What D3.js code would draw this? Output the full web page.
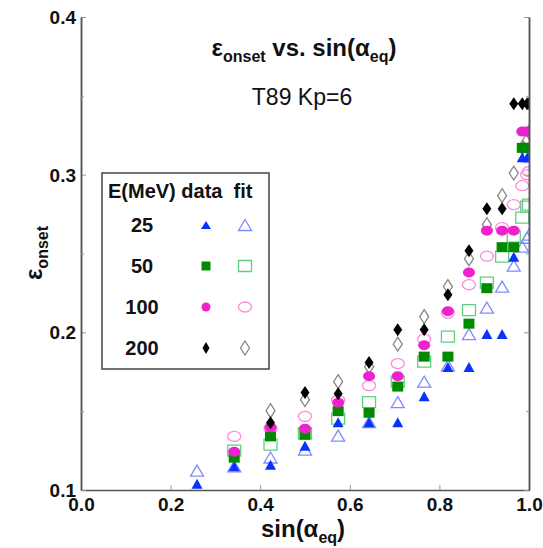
<!DOCTYPE html>
<html>
<head>
<meta charset="utf-8">
<script src="https://cdn.jsdelivr.net/npm/d3@7"></script>
<style>
  body { margin: 0; background: #fff; }
  svg { display: block; font-family: "Liberation Sans", Arial, sans-serif; }
</style>
</head>
<body>
<svg id="chart" width="543" height="548"></svg>
<script>
// epsilon_onset vs sin(alpha_eq), T89 Kp=6

// alpha_eq = 15..90 deg by 5 deg
const sinAlpha = [0.259, 0.342, 0.423, 0.5, 0.574, 0.643, 0.707, 0.766, 0.819, 0.866, 0.906, 0.940, 0.966, 0.985, 0.996, 1.0];

// datos (simbolos llenos), null = no hay punto
const data25  = [0.104, 0.115, 0.116, 0.128, 0.143, 0.143, 0.143, 0.1595, 0.178, 0.178, 0.199, 0.199, 0.248, 0.311, 0.311, 0.311];
const data50  = [null, 0.1205, 0.134, 0.135, 0.150, 0.149, 0.1656, 0.1846, 0.1846, 0.2055, 0.228, 0.254, 0.254, 0.317, 0.317, 0.317];
const data100 = [null, 0.1243, 0.1396, 0.1389, 0.1554, 0.1722, 0.1722, 0.1918, 0.2134, 0.2379, 0.2645, 0.2645, 0.2645, 0.3273, 0.3273, 0.3273];
const data200 = [null, null, 0.1427, 0.1618, 0.1611, 0.1808, 0.2017, 0.2017, 0.2239, 0.2518, 0.2784, 0.2784, 0.345, 0.345, 0.345, 0.345];

// ajustes (simbolos vacios)
const fit25  = [0.1123, 0.115, 0.1206, 0.1256, 0.1345, 0.143, 0.1557, 0.1687, 0.179, 0.1989, 0.2157, 0.229, 0.2423, 0.2543, 0.26, 0.262];
const fit50  = [null, 0.125, 0.1288, 0.136, 0.1453, 0.1557, 0.1687, 0.1814, 0.1973, 0.2141, 0.2315, 0.248, 0.2607, 0.2727, 0.2797, 0.281];
const fit100 = [null, 0.134, 0.139, 0.1467, 0.157, 0.1662, 0.1802, 0.1957, 0.2122, 0.2302, 0.2483, 0.2664, 0.281, 0.293, 0.30, 0.302];
const fit200 = [null, null, 0.1503, 0.1573, 0.1687, 0.1782, 0.1925, 0.21, 0.229, 0.2467, 0.2683, 0.2867, 0.301, 0.317, 0.322, 0.327];

const energies = ["25", "50", "100", "200"];
const xTicks = [0, 0.2, 0.4, 0.6, 0.8, 1.0];
const yTicks = [0.1, 0.2, 0.3, 0.4];
const yMinorTicks = [0.15, 0.25, 0.35];

const series = [
    {name: "25",  data: data25,  fit: fit25,  shape: "tri",  fill: "#0a32ff", line: "#7f8cff"},
    {name: "50",  data: data50,  fit: fit50,  shape: "sq",   fill: "#008a00", line: "#5fcf80"},
    {name: "100", data: data100, fit: fit100, shape: "circ", fill: "#ee22cc", line: "#ff88e0"},
    {name: "200", data: data200, fit: fit200, shape: "dia",  fill: "#000000", line: "#888888"}
];

const svg = d3.select("#chart");
const plotL = 81, plotR = 529, plotT = 17, plotB = 490;

const x = d3.scaleLinear().domain([0, 1]).range([plotL, plotR]);
const y = d3.scaleLinear().domain([0.1, 0.4]).range([plotB, plotT]);

// forma del marcador, w/h en px
function markerPath(shape, w, h) {
    const a = w / 2, b = h / 2;
    if (shape === "tri") return `M0,${-b}L${a},${b}L${-a},${b}Z`;
    if (shape === "sq") return `M${-a},${-b}H${a}V${b}H${-a}Z`;
    if (shape === "dia") return `M0,${-b}L${a},0L0,${b}L${-a},0Z`;
    // elipse
    return `M${-a},0A${a},${b} 0 1,0 ${a},0A${a},${b} 0 1,0 ${-a},0Z`;
}
const bigSize = {tri: [11, 10], sq: [11, 10], circ: [12, 10], dia: [9, 13]};
const fitSize = {tri: [13, 11], sq: [13, 11], circ: [13, 10], dia: [9, 14]};
const legSize = {tri: [10, 8], sq: [9, 9], circ: [9, 9], dia: [7, 12]};

svg.append("clipPath").attr("id", "plot-clip")
    .append("rect").attr("x", plotL).attr("y", 0).attr("width", plotR - plotL).attr("height", plotB);

const plot = svg.append("g").attr("clip-path", "url(#plot-clip)");

// ajustes primero, luego los datos encima
series.forEach(s => {
    const pts = sinAlpha.map((sa, i) => ({sa, v: s.fit[i]})).filter(d => d.v !== null);
    plot.selectAll(null).data(pts).enter().append("path")
        .attr("transform", d => `translate(${x(d.sa)},${y(d.v)})`)
        .attr("d", markerPath(s.shape, ...fitSize[s.shape]))
        .attr("fill", "none")
        .attr("stroke", s.line)
        .attr("stroke-width", 1.3);
});
series.forEach(s => {
    const pts = sinAlpha.map((sa, i) => ({sa, v: s.data[i]})).filter(d => d.v !== null);
    plot.selectAll(null).data(pts).enter().append("path")
        .attr("transform", d => `translate(${x(d.sa)},${y(d.v)})`)
        .attr("d", markerPath(s.shape, ...bigSize[s.shape]))
        .attr("fill", s.fill);
});

// ejes
const axisColor = "#555";
const xAxis = svg.append("g").attr("transform", `translate(0,${plotB})`)
    .call(d3.axisBottom(x).tickValues(xTicks).tickSizeInner(-5).tickSizeOuter(0).tickFormat(d3.format(".1f")));
const yAxis = svg.append("g").attr("transform", `translate(${plotL},0)`)
    .call(d3.axisLeft(y).tickValues(yTicks).tickSizeInner(-5).tickSizeOuter(0).tickFormat(d3.format(".1f")));
svg.append("g").attr("transform", `translate(${plotR},0)`)
    .call(d3.axisRight(y).tickValues(yTicks).tickSizeInner(-5).tickSizeOuter(0).tickFormat(""));
svg.append("g").attr("transform", `translate(${plotL},0)`)
    .call(d3.axisLeft(y).tickValues(yMinorTicks).tickSizeInner(-3).tickSizeOuter(0).tickFormat(""));
svg.append("g").attr("transform", `translate(${plotR},0)`)
    .call(d3.axisRight(y).tickValues(yMinorTicks).tickSizeInner(-3).tickSizeOuter(0).tickFormat(""));

svg.selectAll(".domain").attr("stroke", axisColor).attr("stroke-width", 1.5);
svg.selectAll(".tick line").attr("stroke", "#999").attr("stroke-width", 1);
svg.selectAll(".tick text")
    .attr("font-family", "'Liberation Sans', Arial, sans-serif")
    .attr("font-size", 19).attr("font-weight", "bold").attr("fill", "#111");
xAxis.selectAll(".tick text").attr("y", 8).attr("dy", "0.71em");
yAxis.selectAll(".tick text").attr("x", -5).attr("dy", "0.35em");

// titulo
const title = svg.append("text")
    .attr("x", 304).attr("y", 56)
    .attr("text-anchor", "middle")
    .attr("font-size", 24).attr("font-weight", "bold").attr("fill", "#111");
title.append("tspan").text("ε");
title.append("tspan").attr("font-size", 16).attr("dy", 6).text("onset");
title.append("tspan").attr("dy", -6).text(" vs. sin(α");
title.append("tspan").attr("font-size", 16).attr("dy", 6).text("eq");
title.append("tspan").attr("dy", -6).text(")");

svg.append("text")
    .attr("x", 302).attr("y", 105)
    .attr("text-anchor", "middle")
    .attr("font-size", 23).attr("fill", "#111")
    .text("T89 Kp=6");

// etiqueta eje x
const xl = svg.append("text")
    .attr("x", 303).attr("y", 537)
    .attr("text-anchor", "middle")
    .attr("font-size", 24).attr("font-weight", "bold").attr("fill", "#111");
xl.append("tspan").text("sin(α");
xl.append("tspan").attr("font-size", 16).attr("dy", 6).text("eq");
xl.append("tspan").attr("dy", -6).text(")");

// etiqueta eje y
const yl = svg.append("text")
    .attr("transform", "translate(42,253) rotate(-90)")
    .attr("text-anchor", "middle")
    .attr("font-size", 24).attr("font-weight", "bold").attr("fill", "#111");
yl.append("tspan").text("ε");
yl.append("tspan").attr("font-size", 16).attr("dy", 6).text("onset");

// leyenda
const leg = svg.append("g");
leg.append("rect")
    .attr("x", 102).attr("y", 173).attr("width", 167).attr("height", 196)
    .attr("fill", "#fff").attr("stroke", "#444").attr("stroke-width", 1.5);
leg.append("text")
    .attr("x", 108).attr("y", 198)
    .attr("font-size", 20).attr("font-weight", "bold").attr("fill", "#111")
    .attr("xml:space", "preserve")
    .text("E(MeV) data  fit");

const rowY = d3.scalePoint().domain(energies).range([232, 355]);
series.forEach(s => {
    const ry = rowY(s.name);
    leg.append("text")
        .attr("x", 142).attr("y", ry)
        .attr("text-anchor", "middle")
        .attr("font-size", 20).attr("font-weight", "bold").attr("fill", "#111")
        .text(s.name);
    leg.append("path")
        .attr("transform", `translate(206,${ry - 7})`)
        .attr("d", markerPath(s.shape, ...legSize[s.shape]))
        .attr("fill", s.fill);
    leg.append("path")
        .attr("transform", `translate(245,${ry - 7})`)
        .attr("d", markerPath(s.shape, ...fitSize[s.shape]))
        .attr("fill", "none").attr("stroke", s.line).attr("stroke-width", 1.3);
});
</script>
</body>
</html>
